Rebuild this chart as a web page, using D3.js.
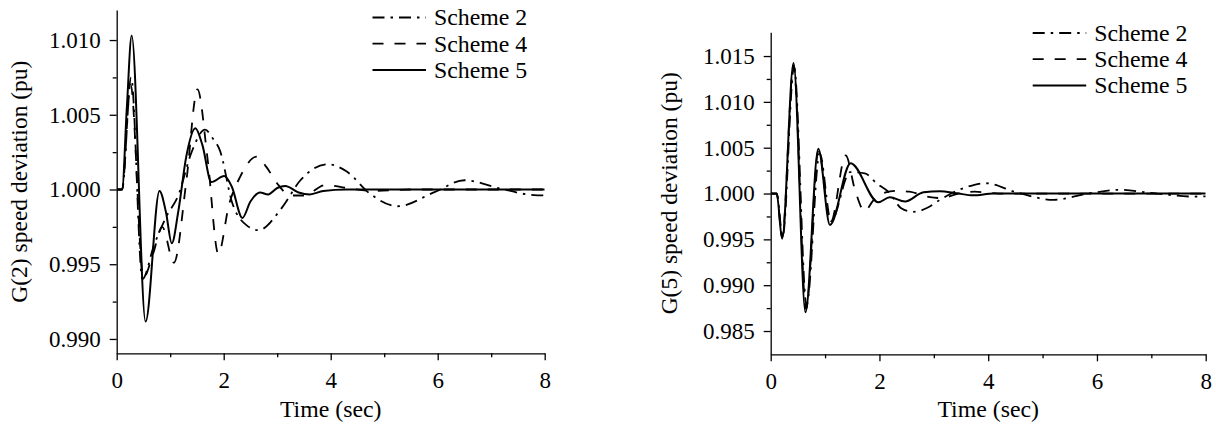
<!DOCTYPE html>
<html>
<head>
<meta charset="utf-8">
<script src="https://cdn.jsdelivr.net/npm/d3@7"></script>
<style>
  body { margin: 0; background: #fff; }
  svg text { font-family: "Liberation Serif", "Times New Roman", serif; fill: #000; }
</style>
</head>
<body>
<div id="chart"></div>
<script>
// ---- data ----
const schemes = ["Scheme 2", "Scheme 4", "Scheme 5"];
const xMajor = [0, 2, 4, 6, 8];
const xMinor = [1, 3, 5, 7];

// G(2)
const g2Ticks = [0.990, 0.995, 1.000, 1.005, 1.010];
const g2Minor = [0.9925, 0.9975, 1.0025, 1.0075];
const g2S2_t = [0, 0.1, 0.27, 0.48, 0.7, 0.93, 1.15, 1.4, 1.65, 1.8, 1.93, 2.16, 2.43, 2.65, 3.1, 3.43, 3.95, 4.3, 4.73, 5.25, 5.95, 6.5, 7.16, 7.8, 8];
const g2S2_v = [1, 1, 1.0075, 0.9940, 0.9963, 0.9982, 0.9996, 1.0025, 1.0040, 1.0034, 1.0026, 0.9991, 0.9976, 0.99728, 0.99884, 1.0006, 1.00169, 1.0012, 0.99973, 0.99888, 0.99984, 1.00062, 1.00007, 0.99962, 0.9996];
const g2S4_t = [0, 0.1, 0.26, 0.5, 0.68, 0.85, 1.07, 1.3, 1.51, 1.7, 1.9, 2.1, 2.3, 2.62, 2.8, 3.0, 3.25, 3.5, 3.9, 4.3, 4.8, 5.5, 6.5, 8];
const g2S4_v = [1, 1, 1.0070, 0.9941, 0.9957, 0.9975, 0.9951, 1.0005, 1.0067, 1.0020, 0.9957, 0.9990, 1.0008, 1.0022, 1.0015, 1.0004, 0.9996, 0.9996, 1.0003, 1.0001, 0.9999, 1.0, 1.0, 1.0];
const g2S5_t = [0, 0.1, 0.19, 0.28, 0.54, 0.8, 0.92, 1.03, 1.15, 1.3, 1.47, 1.6, 1.77, 2.01, 2.15, 2.35, 2.5, 2.68, 2.83, 3.0, 3.15, 3.4, 3.61, 3.86, 4.3, 5, 6, 7, 8];
const g2S5_v = [1, 1, 1.0055, 1.0103, 0.99116, 0.9999, 0.9985, 0.9964, 0.9985, 1.0022, 1.0041, 1.0030, 1.0005, 1.0009, 1.0002, 0.9981, 0.9992, 0.9998, 0.99967, 1.0001, 1.00024, 0.9998, 0.99967, 0.9999, 1.0, 1.0, 1.0, 1.0, 1.0];

// G(5)
const g5Ticks = [0.985, 0.990, 0.995, 1.000, 1.005, 1.010, 1.015];
const g5Minor = [0.9875, 0.9925, 0.9975, 1.0025, 1.0075, 1.0125];
const g5S2_t = [0, 0.11, 0.22, 0.43, 0.66, 0.9, 1.11, 1.46, 1.73, 1.95, 2.18, 2.4, 2.62, 2.9, 3.11, 3.42, 3.72, 3.95, 4.52, 5.2, 5.87, 6.42, 7.09, 7.77, 8];
const g5S2_v = [1, 1, 0.9953, 1.0138, 0.9878, 1.0044, 0.9970, 1.00233, 1.0022, 1.0011, 1.0001, 0.9984, 0.9980, 0.9985, 0.9993, 1.0003, 1.0009, 1.00112, 1.00014, 0.99931, 1.00003, 1.0004, 1.0, 0.99967, 0.9997];
const g5S4_t = [0, 0.11, 0.21, 0.42, 0.65, 0.88, 1.1, 1.38, 1.55, 1.73, 1.88, 2.1, 2.3, 2.55, 2.93, 3.15, 3.45, 3.75, 4.2, 5, 8];
const g5S4_v = [1, 1, 0.9952, 1.0140, 0.9874, 1.0047, 0.9968, 1.00415, 1.0004, 0.99807, 0.9992, 1.0001, 1.0003, 1.0002, 0.9996, 0.9995, 1.0000, 1.0002, 1.0, 1.0, 1.0];
const g5S5_t = [0, 0.11, 0.21, 0.42, 0.64, 0.875, 1.09, 1.47, 1.98, 2.19, 2.47, 2.81, 3.11, 3.42, 3.72, 4.1, 5, 6, 7, 8];
const g5S5_v = [1, 1, 0.99508, 1.01423, 0.98704, 1.00488, 0.99658, 1.00331, 0.99905, 0.9996, 0.99913, 1.00014, 1.00025, 1.00003, 0.9998, 1.0, 1.0, 1.0, 1.0, 1.0];

const dashes = ["12,6,2.5,6", "11,11", null];

const width = 1216, height = 424;
const svg = d3.select("#chart").append("svg")
    .attr("width", width)
    .attr("height", height)
    .attr("viewBox", [0, 0, width, height]);

const panels = [
  {id: "g2", label: "G(2) speed deviation (pu)", left: 116.7, right: 544.7, top: 10, bottom: 353.3,
   yDomain: [0.98904, 1.01201], ticks: g2Ticks, minor: g2Minor, labelX: 26.5,
   series: [[g2S2_t, g2S2_v], [g2S4_t, g2S4_v], [g2S5_t, g2S5_v]],
   legX: 372.5, legY: 17.5},
  {id: "g5", label: "G(5) speed deviation (pu)", left: 770.7, right: 1205.7, top: 32.3, bottom: 354.3,
   yDomain: [0.98246, 1.01759], ticks: g5Ticks, minor: g5Minor, labelX: 676.6,
   series: [[g5S2_t, g5S2_v], [g5S4_t, g5S4_v], [g5S5_t, g5S5_v]],
   legX: 1032.7, legY: 33}
];

panels.forEach(p => {
  const x = d3.scaleLinear([0, 8], [p.left, p.right]);
  const y = d3.scaleLinear(p.yDomain, [p.bottom, p.top]);

  svg.append("clipPath").attr("id", "clip-" + p.id)
    .append("rect")
      .attr("x", p.left).attr("y", p.top)
      .attr("width", p.right - p.left).attr("height", p.bottom - p.top);

  const line = d3.line()
      .x(d => x(d[0]))
      .y(d => y(d[1]))
      .curve(d3.curveMonotoneX);

  // curves
  svg.append("g")
      .attr("clip-path", `url(#clip-${p.id})`)
      .attr("fill", "none")
      .attr("stroke", "#000")
    .selectAll("path")
    .data(p.series)
    .join("path")
      .attr("stroke-width", (d, i) => i === 2 ? 2 : 1.8)
      .attr("stroke-dasharray", (d, i) => dashes[i])
      .attr("d", d => line(d3.zip(d[0], d[1])));

  // axes
  const xAxis = svg.append("g")
      .attr("transform", `translate(0,${p.bottom})`)
      .call(d3.axisBottom(x).tickValues(xMajor).tickSize(7).tickPadding(11)
            .tickSizeOuter(0).tickFormat(d3.format("d")));
  svg.append("g")
      .attr("transform", `translate(0,${p.bottom})`)
      .call(d3.axisBottom(x).tickValues(xMinor).tickSize(4).tickFormat(""))
      .call(g => g.select(".domain").remove());

  const yAxis = svg.append("g")
      .attr("transform", `translate(${p.left},0)`)
      .call(d3.axisLeft(y).tickValues(p.ticks).tickSize(7).tickPadding(9)
            .tickSizeOuter(0).tickFormat(d3.format(".3f")));
  svg.append("g")
      .attr("transform", `translate(${p.left},0)`)
      .call(d3.axisLeft(y).tickValues(p.minor).tickSize(4).tickFormat(""))
      .call(g => g.select(".domain").remove());

  svg.selectAll("g.tick line, path.domain").attr("stroke", "#000").attr("stroke-width", 1.3);
  [xAxis, yAxis].forEach(a => a.attr("font-family", "Liberation Serif").attr("font-size", 23));

  // axis titles
  svg.append("text")
      .attr("x", (p.left + p.right) / 2)
      .attr("y", 417)
      .attr("text-anchor", "middle")
      .attr("font-size", 23.8)
      .text("Time (sec)");
  svg.append("text")
      .attr("transform", `translate(${p.labelX},${(p.top + p.bottom) / 2}) rotate(-90)`)
      .attr("text-anchor", "middle")
      .attr("font-size", 23.5)
      .text(p.label);

  // legend
  const leg = svg.append("g")
      .attr("transform", `translate(${p.legX},${p.legY})`)
    .selectAll("g")
    .data(schemes)
    .join("g")
      .attr("transform", (d, i) => `translate(0,${i * 26.2})`);
  leg.append("line")
      .attr("x1", 0).attr("x2", 53.5)
      .attr("stroke", "#000")
      .attr("stroke-width", (d, i) => i === 2 ? 2 : 1.8)
      .attr("stroke-dasharray", (d, i) => dashes[i]);
  leg.append("text")
      .attr("x", 61.5)
      .attr("dy", "0.33em")
      .attr("font-size", 23.8)
      .text(d => d);
});
</script>
</body>
</html>
